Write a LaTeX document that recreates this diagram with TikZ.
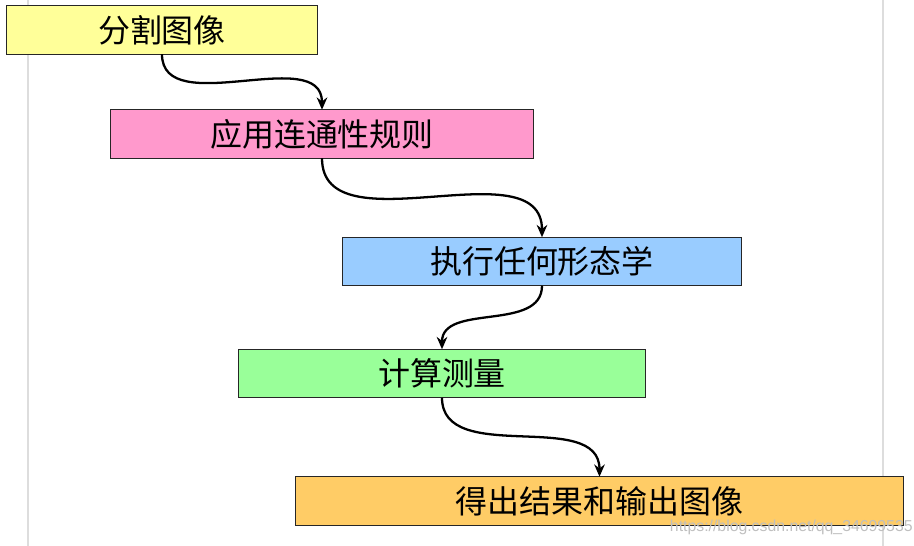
\documentclass[tikz,border=0pt]{standalone}
\usepackage{fontspec}
\newfontfamily\cjk{Noto Sans CJK SC}
\newfontfamily\urlfont{Liberation Sans}
\usetikzlibrary{arrows.meta, positioning}
\definecolor{segyellow}{RGB}{255, 255, 153}
\definecolor{rulepink}{RGB}{255, 153, 204}
\definecolor{morphblue}{RGB}{153, 204, 255}
\definecolor{measgreen}{RGB}{153, 255, 153}
\definecolor{resorange}{RGB}{255, 204, 102}
\definecolor{pageline}{RGB}{221, 221, 221}

\begin{document}
\begin{tikzpicture}[
    x=0.02cm, y=0.02cm,
    stepbox/.style={rectangle, draw=black!85, line width=0.6pt, font=\cjk\fontsize{18.2}{21}\selectfont, minimum height=0.97cm, inner sep=0pt, outer sep=0pt, align=center},
    flow/.style={-{Stealth[length=7pt, width=6pt]}, line width=1.3pt, black}
]
  \useasboundingbox (0, 0) rectangle (914, 546);

  % 页面边线
  \draw[pageline, line width=1pt] (28, 0) -- (28, 546);
  \draw[pageline, line width=1pt] (883, 0) -- (883, 546);

  % 步骤
  \node[stepbox, fill=segyellow, minimum width=6.24cm] (seg) at (162, 516) {分割图像};
  \node[stepbox, fill=rulepink, minimum width=8.48cm] (conn) at (322, 412) {应用连通性规则};
  \node[stepbox, fill=morphblue, minimum width=8cm] (morph) at (542, 284.5) {执行任何形态学};
  \node[stepbox, fill=measgreen, minimum width=8.16cm] (meas) at (442, 172.5) {计算测量};
  \node[stepbox, fill=resorange, minimum width=12.18cm] (result) at (599.5, 45) {得出结果和输出图像};

  % 连线
  \draw[flow] (seg.south) to[out=-90, in=90] (conn.north);
  \draw[flow] (conn.south) to[out=-90, in=90] (morph.north);
  \draw[flow] (morph.south) to[out=-90, in=90] (meas.north);
  \draw[flow] (meas.south) to[out=-90, in=90] (result.north);

  % 水印
  \node[font=\urlfont\fontsize{9}{10}\selectfont, text=black!25, anchor=east, inner sep=0pt] (mark) at (913, 19) {https://blog.csdn.net/qq\_34699535};
\end{tikzpicture}
\end{document}
